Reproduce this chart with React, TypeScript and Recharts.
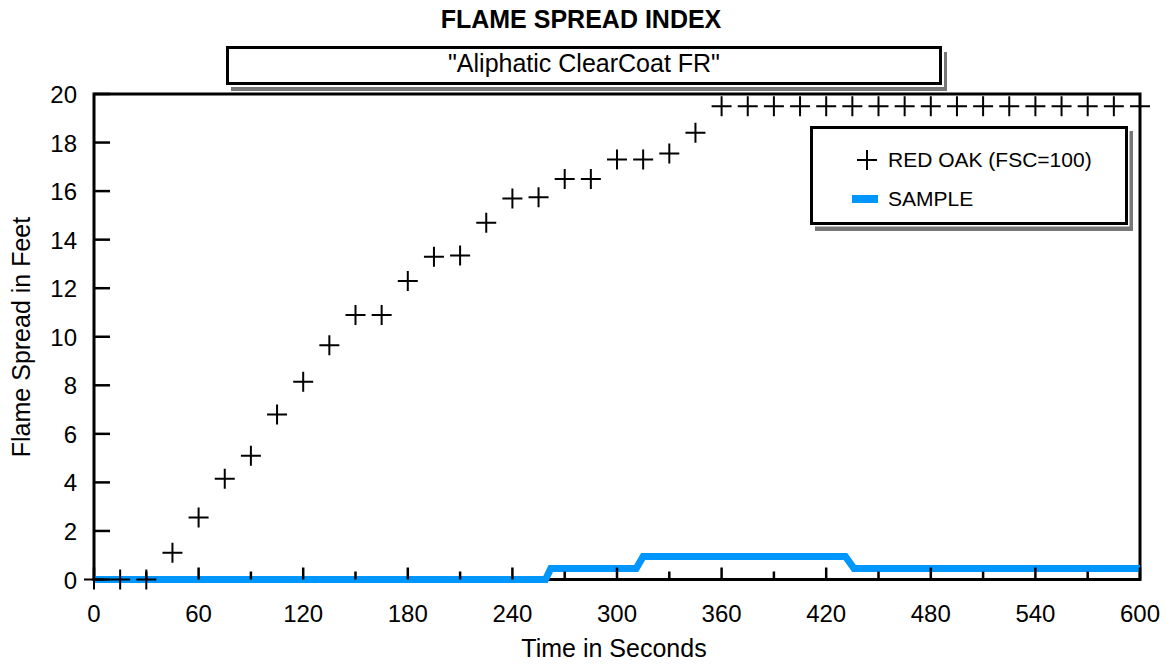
import { ComposedChart, XAxis, YAxis, Scatter, Line, ReferenceArea, Label } from "recharts"

const FONT = '"Liberation Sans", Arial, Helvetica, sans-serif'

// red oak calibration run, one reading every 15 s
const redOakSeconds = [
  0, 15, 30, 45, 60, 75, 90, 105, 120, 135, 150, 165, 180, 195, 210, 225, 240, 255, 270, 285, 300,
  315, 330, 345, 360, 375, 390, 405, 420, 435, 450, 465, 480, 495, 510, 525, 540, 555, 570, 585, 600,
]
const redOakFeet = [
  0, 0, 0, 1.1, 2.55, 4.15, 5.1, 6.8, 8.15, 9.65, 10.9, 10.9, 12.3, 13.3, 13.35, 14.7, 15.7, 15.75,
  16.5, 16.5, 17.3, 17.3, 17.55, 18.4, 19.5, 19.5, 19.5, 19.5, 19.5, 19.5, 19.5, 19.5, 19.5, 19.5,
  19.5, 19.5, 19.5, 19.5, 19.5, 19.5, 19.5,
]

// sample flame front (step trace)
const sampleSeconds = [0, 259, 262, 311, 315, 431, 436, 600]
const sampleFeet = [0, 0, 0.45, 0.45, 0.95, 0.95, 0.45, 0.45]

const xTicks = [0, 30, 60, 90, 120, 150, 180, 210, 240, 270, 300, 330, 360, 390, 420, 450, 480, 510, 540, 570, 600]
const yTicks = [0, 2, 4, 6, 8, 10, 12, 14, 16, 18, 20]

const redOakData = redOakSeconds.map((sec, i) => ({ sec, feet: redOakFeet[i] }))
const sampleData = sampleSeconds.map((sec, i) => ({ sec, feet: sampleFeet[i] }))

const BLUE = "#0096ff"

function Cross(props: any) {
  const { cx, cy } = props
  if (cx == null || cy == null) return null
  return (
    <path
      d={`M${cx - 10},${cy}H${cx + 10}M${cx},${cy - 10}V${cy + 10}`}
      stroke="#000"
      strokeWidth={2}
      fill="none"
    />
  )
}

function XTick(props: any) {
  const { x, y, payload } = props
  const major = payload.value % 60 === 0
  return (
    <g>
      <line x1={x} x2={x} y1={y} y2={y - (major ? 12 : 8)} stroke="#000" strokeWidth={2.5} />
      {major && (
        <text x={x} y={y + 42} textAnchor="middle" fontSize={24} fontFamily={FONT} fill="#000">
          {payload.value}
        </text>
      )}
    </g>
  )
}

function YTick(props: any) {
  const { x, y, payload } = props
  return (
    <g>
      <line x1={x} x2={x + 16} y1={y} y2={y} stroke="#000" strokeWidth={2.5} />
      <text x={x - 17} y={y + 9} textAnchor="end" fontSize={24} fontFamily={FONT} fill="#000">
        {payload.value}
      </text>
    </g>
  )
}

function Overlay() {
  return (
    <svg
      width={1167}
      height={664}
      style={{ position: "absolute", left: 0, top: 0, pointerEvents: "none" }}
    >
      <text x={581} y={28} textAnchor="middle" fontSize={25} fontWeight="bold" fontFamily={FONT} fill="#000">
        FLAME SPREAD INDEX
      </text>

      {/* subtitle box */}
      <rect x={231} y={52} width={716} height={39} fill="#777" />
      <rect x={224} y={44} width={720} height={43} fill="#fff" />
      <rect x={227.5} y={47.5} width={713} height={36} fill="#fff" stroke="#000" strokeWidth={3} />
      <text x={584} y={72} textAnchor="middle" fontSize={25} fontFamily={FONT} fill="#000">
        "Aliphatic ClearCoat FR"
      </text>

      {/* legend box */}
      <rect x={815} y={131} width={318} height={100} fill="#777" />
      <rect x={808.5} y={124.5} width={321} height={102} fill="#fff" />
      <rect x={811.5} y={127.5} width={315} height={96} fill="#fff" stroke="#000" strokeWidth={3} />
      <path d="M857,160H877M867,150V170" stroke="#000" strokeWidth={2} />
      <text x={888} y={167} fontSize={21} fontFamily={FONT} fill="#000">
        RED OAK (FSC=100)
      </text>
      <rect x={852} y={195} width={26} height={8} fill={BLUE} />
      <text x={888} y={206} fontSize={21} fontFamily={FONT} fill="#000">
        SAMPLE
      </text>
    </svg>
  )
}

export default function App() {
  return (
    <div style={{ position: "absolute", left: 0, top: 0, width: 1167, height: 664, background: "#fff" }}>
      <ComposedChart width={1167} height={664} margin={{ top: 94, right: 27, bottom: 0, left: 0 }}>
        <XAxis
          dataKey="sec"
          type="number"
          domain={[0, 600]}
          ticks={xTicks}
          interval={0}
          height={84.5}
          axisLine={false}
          tickLine={false}
          tickSize={0}
          tickMargin={0}
          tick={<XTick />}
        >
          <Label
            content={() => (
              <text x={614} y={657} textAnchor="middle" fontSize={25} fontFamily={FONT} fill="#000">
                Time in Seconds
              </text>
            )}
          />
        </XAxis>
        <YAxis
          type="number"
          domain={[0, 20]}
          ticks={yTicks}
          interval={0}
          width={94}
          axisLine={false}
          tickLine={false}
          tickSize={0}
          tickMargin={0}
          tick={<YTick />}
        >
          <Label
            content={() => (
              <text
                x={30}
                y={337}
                transform="rotate(-90 30 337)"
                textAnchor="middle"
                fontSize={25}
                fontFamily={FONT}
                fill="#000"
              >
                Flame Spread in Feet
              </text>
            )}
          />
        </YAxis>
        <ReferenceArea x1={0} x2={600} y1={0} y2={20} fill="none" stroke="#000" strokeWidth={3} />
        <Line
          data={sampleData}
          dataKey="feet"
          type="linear"
          stroke={BLUE}
          strokeWidth={7}
          dot={false}
          activeDot={false}
          isAnimationActive={false}
        />
        <Scatter data={redOakData} dataKey="feet" shape={Cross} isAnimationActive={false} />
      </ComposedChart>
      <Overlay />
    </div>
  )
}
